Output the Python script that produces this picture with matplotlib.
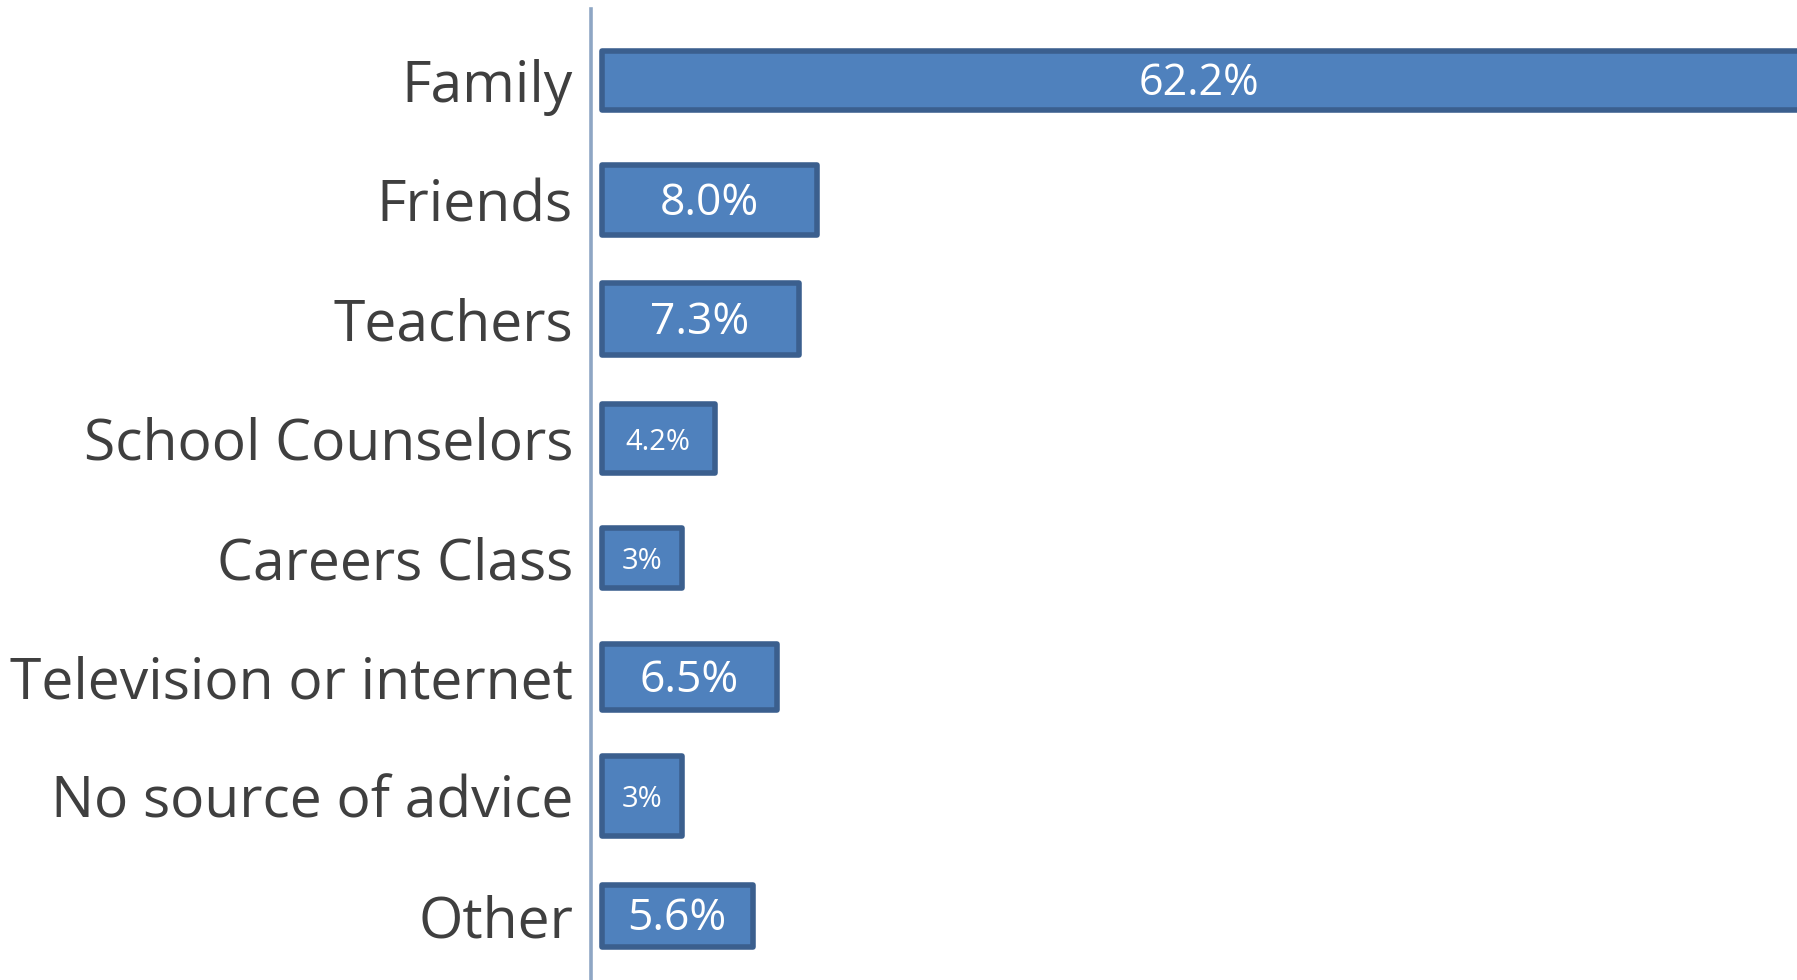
import matplotlib
matplotlib.use("Agg")
import matplotlib.pyplot as plt

categories = ["Family", "Friends", "Teachers", "School Counselors", "Careers Class",
              "Television or internet", "No source of advice", "Other"]
values = [62.2, 8.0, 7.3, 4.2, 3.0, 6.5, 3.0, 5.6]
value_labels = ["62.2%", "8.0%", "7.3%", "4.2%", "3%", "6.5%", "3%", "5.6%"]

# styling
bar_heights = [0.50, 0.59, 0.60, 0.58, 0.50, 0.55, 0.67, 0.52]
label_sizes = [31, 32, 32, 21, 21, 32, 21, 32]

W, H = 1797, 980
fig = plt.figure(figsize=(W / 100, H / 100), dpi=100)
ax = fig.add_axes([591 / W, 0, 1 - 591 / W, 1 - 9 / H])

pos = list(range(len(categories)))
ax.barh(pos, values, height=bar_heights, left=0, color="#4F81BD",
        edgecolor="#3B5F8E", linewidth=4.0, joinstyle="round", zorder=2)

ax.set_xlim(-0.389, 44.28)
ax.set_ylim(7.54, -0.60)
xmax = ax.get_xlim()[1]

for p, v, lab, fs in zip(pos, values, value_labels, label_sizes):
    xc = min(v, xmax) / 2
    ax.text(xc, p + 0.03, lab, ha="center", va="center", color="white",
            fontsize=fs, family=["Open Sans", "DejaVu Sans"], zorder=3)

ax.set_yticks(pos)
ax.set_yticklabels(categories, fontsize=41, color="#3F3F3F",
                   family=["Open Sans", "DejaVu Sans"])
for t in ax.get_yticklabels():
    t.set_y(t.get_position()[1])
ax.tick_params(axis="y", length=0, pad=13)
ax.set_xticks([])
for s in ["top", "right", "bottom"]:
    ax.spines[s].set_visible(False)
ax.spines["left"].set_color("#8EA6C4")
ax.spines["left"].set_linewidth(2.6)

fig.savefig("out.png", dpi=100)
